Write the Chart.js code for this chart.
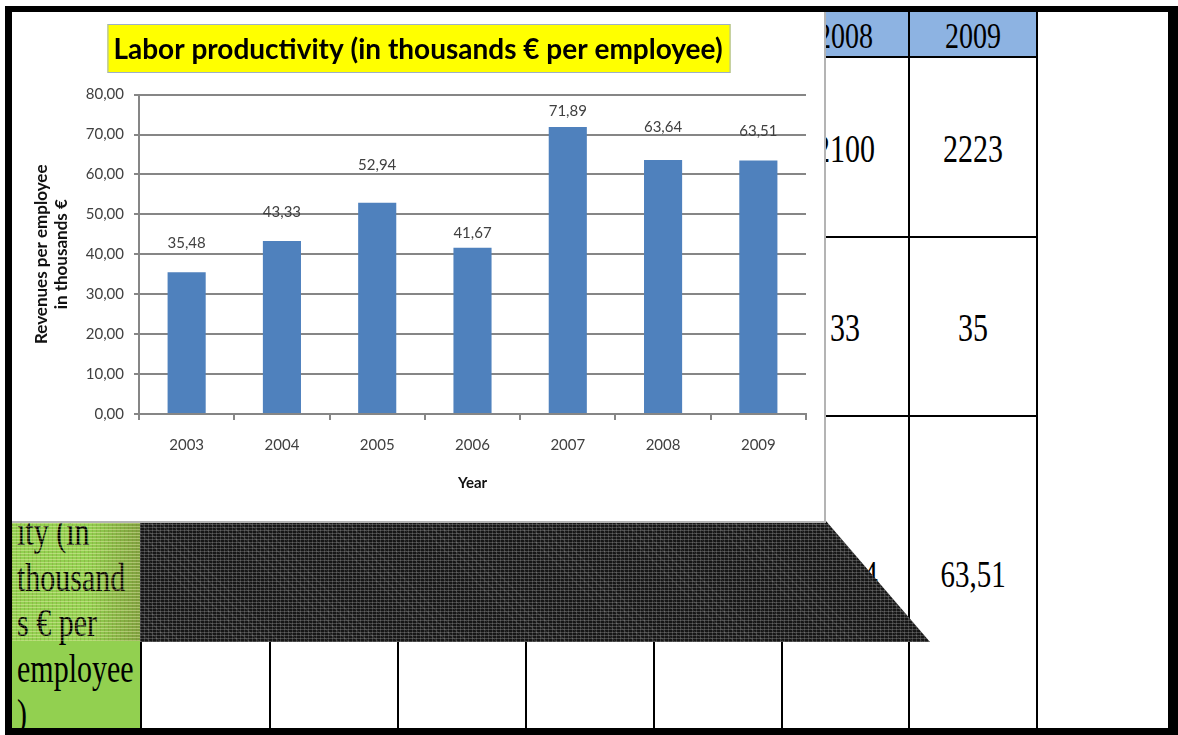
<!DOCTYPE html>
<html>
<head>
<meta charset="utf-8">
<script src="https://cdn.jsdelivr.net/npm/chart.js@4.4.1/dist/chart.umd.min.js"></script>
<style>
  body { margin: 0; width: 1178px; height: 735px; position: relative; overflow: hidden; background: #fff; font-family: "Liberation Serif", "Times New Roman", serif; }
  #frame { position: absolute; left: 5px; top: 6px; width: 1173px; height: 729px; box-sizing: border-box; border: solid #000; border-width: 6px 10px 7px 7px; z-index: 5; }
  .line { position: absolute; background: #000; z-index: 1; }
  .cell { position: absolute; width: 128px; text-align: center; color: #000; z-index: 1; transform: translateY(-50%) scaleY(1.3); line-height: 1; }
  #head { position: absolute; left: 781px; top: 12px; width: 256px; height: 44px; background: #8db3e2; z-index: 0; }
  #green { position: absolute; left: 12px; top: 416px; width: 128px; height: 312px; background: #92d050; overflow: hidden; z-index: 1; }
  #green div { position: absolute; left: 5px; top: 2px; font-size: 30px; line-height: 35px; white-space: pre; color: #000; transform: scaleY(1.3); transform-origin: 0 0; }
  #greenShade { position: absolute; left: 12px; top: 521px; width: 128px; height: 120px; z-index: 2;
    background-image:
      repeating-linear-gradient(0deg, rgba(255,255,200,0.35) 0 1px, transparent 1px 3px),
      repeating-linear-gradient(90deg, rgba(120,120,40,0.25) 0 1px, transparent 1px 4px),
      linear-gradient(90deg, rgba(0,0,0,0) 0%, rgba(0,0,0,0) 60%, rgba(90,70,30,0.35) 100%); }
  #band { position: absolute; left: 140px; top: 521px; width: 790px; height: 121px; z-index: 2;
    background-color: #161616;
    background-image:
      repeating-linear-gradient(0deg, rgba(255,255,255,0.2) 0 1px, transparent 1px 3px),
      repeating-linear-gradient(90deg, rgba(255,255,255,0.16) 0 1px, transparent 1px 4px),
      repeating-linear-gradient(45deg, rgba(255,255,255,0.08) 0 1px, transparent 1px 7px);
    clip-path: polygon(0 0, 686px 0, 790px 121px, 0 121px); }
  #panel { position: absolute; left: 12px; top: 12px; width: 812px; height: 509px; background: #fff; z-index: 3; border-right: 2px solid #b4b4b4; border-bottom: 2px solid #b4b4b4; }
  #panel canvas { position: absolute; left: 0; top: 0; }
</style>
</head>
<body>
<div id="frame"></div>
<div id="head"></div>
<div id="green"><div>Labor
productiv
ity (in
thousand
s € per
employee
)</div></div>
<div id="greenShade"></div>
<div id="band"></div>
<div id="panel"><canvas id="chart" width="812" height="508"></canvas></div>

<script>
const years = ["2003", "2004", "2005", "2006", "2007", "2008", "2009"];
const productivity = [35.48, 43.33, 52.94, 41.67, 71.89, 63.64, 63.51];

// table behind the chart (only the part that shows)
const tableYears = ["2008", "2009"];
const revenues = ["2100", "2223"];
const employees = ["33", "35"];

const comma = (v) => v.toFixed(2).replace(".", ",");

function addLine(x, y, w, h) {
  const d = document.createElement("div");
  d.className = "line";
  Object.assign(d.style, { left: x + "px", top: y + "px", width: w + "px", height: h + "px" });
  document.body.appendChild(d);
}

function addCell(text, x, y, size) {
  const d = document.createElement("div");
  d.className = "cell";
  d.textContent = text;
  Object.assign(d.style, { left: x + "px", top: y + "px", fontSize: size + "px" });
  document.body.appendChild(d);
}

// grid of the table
[908, 1036].forEach((x) => addLine(x, 12, 2, 716));
[140, 269, 397, 525, 653, 781].forEach((x) => addLine(x, 416, 2, 312));
[56, 236, 415].forEach((y) => addLine(781, y, 257, 2));

tableYears.forEach((yr, i) => {
  const x = 781 + i * 128;
  addCell(yr, x, 36, 28);
  addCell(revenues[i], x, 149, 30);
  addCell(employees[i], x, 328, 30);
  addCell(comma(productivity[years.indexOf(yr)]), x, 575, 29);
});

// yellow box behind the chart title
const titleBox = {
  id: "titleBox",
  beforeDraw(chart) {
    const t = chart.titleBlock;
    if (!t) return;
    const ctx = chart.ctx;
    const opts = chart.options.plugins.title;
    ctx.save();
    ctx.font = `bold ${opts.font.size}px ${opts.font.family}`;
    const w = ctx.measureText(opts.text).width;
    const mid = (t.left + t.right) / 2;
    const x0 = mid - w / 2 - 6;
    ctx.fillStyle = "#ffff00";
    ctx.fillRect(x0, 12, w + 14, 49);
    ctx.strokeStyle = "#9db0c8";
    ctx.lineWidth = 1;
    ctx.strokeRect(x0 + 0.5, 12.5, w + 13, 48);
    ctx.restore();
  },
};

// value labels above the bars (positions nudged as in the source)
const barValues = {
  id: "barValues",
  afterDatasetsDraw(chart, args, opts) {
    const ctx = chart.ctx;
    const meta = chart.getDatasetMeta(0);
    ctx.save();
    ctx.font = "15px Lato";
    ctx.fillStyle = "#404040";
    ctx.textAlign = "center";
    ctx.textBaseline = "middle";
    meta.data.forEach((bar, i) => {
      ctx.fillText(comma(productivity[i]), bar.x, bar.y - opts.lift[i]);
    });
    ctx.restore();
  },
};

new Chart(document.getElementById("chart"), {
  type: "bar",
  data: {
    labels: years,
    datasets: [
      {
        data: productivity,
        backgroundColor: "#4f81bd",
        barPercentage: 0.4,
        categoryPercentage: 1,
      },
    ],
  },
  options: {
    responsive: false,
    animation: false,
    devicePixelRatio: 1,
    layout: { padding: 0 },
    plugins: {
      legend: { display: false },
      tooltip: { enabled: false },
      title: {
        display: true,
        text: "Labor productivity (in thousands € per employee)",
        color: "#000",
        font: { family: "Lato", size: 28, weight: "bold" },
        padding: { top: 21, bottom: 28 },
      },
      barValues: { lift: [29, 29, 37, 14, 16, 33, 29] },
    },
    scales: {
      x: {
        grid: { drawOnChartArea: false, color: "#868686", lineWidth: 2, tickLength: 6 },
        border: { color: "#868686", width: 2 },
        ticks: { color: "#404040", font: { family: "Lato", size: 15 }, padding: 16 },
        title: {
          display: true,
          text: "Year",
          color: "#111",
          font: { family: "Lato", size: 15, weight: "bold" },
          padding: { top: 0, bottom: 28 },
        },
        afterFit(scale) {
          scale.height = 106;
        },
      },
      y: {
        min: 0,
        max: 80,
        grid: { color: "#868686", lineWidth: 2, tickLength: 5 },
        border: { color: "#868686", width: 2 },
        ticks: {
          stepSize: 10,
          color: "#404040",
          font: { family: "Lato", size: 15 },
          padding: 10,
          callback: (v) => comma(v),
        },
        title: {
          display: true,
          text: ["Revenues per employee", "in thousands €"],
          color: "#111",
          font: { family: "Lato", size: 17, weight: "bold", lineHeight: 1.2 },
          padding: { top: 19 },
        },
        afterFit(scale) {
          scale.width = 127;
        },
      },
      // empty right-hand strip so the title stays centred on the whole panel
      pad: {
        type: "linear",
        position: "right",
        grid: { display: false },
        border: { display: false },
        ticks: { display: false },
        afterFit(scale) {
          scale.width = 18;
        },
      },
    },
  },
  plugins: [titleBox, barValues],
});
</script>
</body>
</html>
